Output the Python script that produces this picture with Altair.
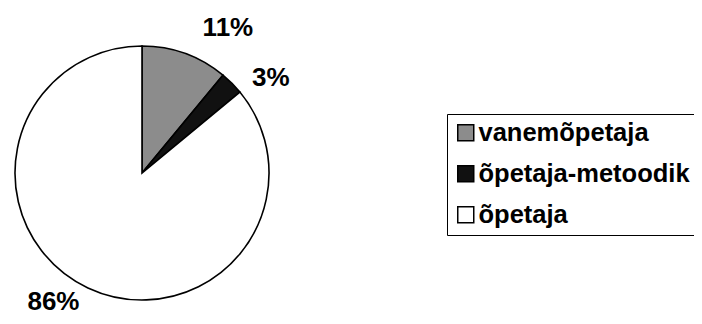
import altair as alt
import pandas as pd

categories = ["vanemõpetaja", "õpetaja-metoodik", "õpetaja"]
shares = [11, 3, 86]
labels = ["11%", "3%", "86%"]
colors = ["#8c8c8c", "#111111", "#ffffff"]

df = pd.DataFrame({
    "cat": categories,
    "share": shares,
    "label": labels,
    "idx": list(range(len(categories))),
})

FONT = "Liberation Sans"

base = alt.Chart(df).encode(
    theta=alt.Theta("share:Q", stack=True),
    order=alt.Order("idx:Q"),
    x=alt.value(134),
    y=alt.value(165),
)

pie = base.mark_arc(outerRadius=127, stroke="black", strokeWidth=1.6).encode(
    color=alt.Color(
        "cat:N",
        scale=alt.Scale(domain=categories, range=colors),
        sort=None,
        legend=alt.Legend(
            orient="none", legendX=439, legendY=106, title=None,
            symbolType="square", symbolSize=256,
            symbolStrokeColor="black", symbolStrokeWidth=1.5,
            labelFont=FONT, labelFontSize=25.5, labelFontWeight="bold",
            labelColor="black", strokeColor="black", padding=6,
            rowPadding=14, labelOffset=0, labelLimit=400,
        ),
    )
)

offsets = {"11%": (29, 13), "3%": (10, 24), "86%": (-17, -23)}
layers = [pie]
for lab in labels:
    dx, dy = offsets[lab]
    layers.append(
        base.mark_text(radius=168, font=FONT, fontSize=26, fontWeight="bold",
                       color="black", dx=dx, dy=dy, align="center",
                       baseline="middle").encode(
            text=alt.condition(f"datum.label == '{lab}'", alt.Text("label:N"), alt.value(""))
        )
    )

chart = alt.layer(*layers).properties(
    width=686, height=308,
    autosize=alt.AutoSizeParams(type="none"),
    padding=0,
).configure_view(stroke=None)

chart.save("out.html", embed_options={"renderer": "svg", "actions": False})
